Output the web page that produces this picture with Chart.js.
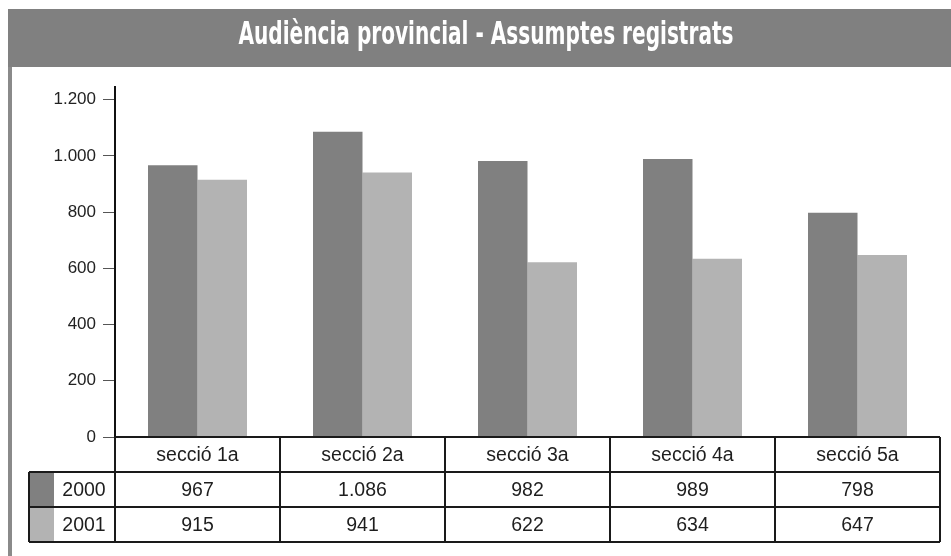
<!DOCTYPE html>
<html><head><meta charset="utf-8">
<script src="https://cdn.jsdelivr.net/npm/chart.js@4.4.0/dist/chart.umd.min.js"></script>
<style>html,body{margin:0;padding:0;background:#fff}#wrap{width:951px;height:556px}</style>
</head><body><div id="wrap"><canvas id="c" width="951" height="556"></canvas></div>
<script>
const titleText = 'Audiència provincial - Assumptes registrats';
const categories = ['secció 1a', 'secció 2a', 'secció 3a', 'secció 4a', 'secció 5a'];
const seriesNames = ['2000', '2001'];
const values2000 = [967, 1086, 982, 989, 798];
const values2001 = [915, 941, 622, 634, 647];
const yTicks = [0, 200, 400, 600, 800, 1000, 1200];
const seriesColors = ['#808080', '#b3b3b3'];
const seriesValues = [values2000, values2001];

function fmt(n) { return String(n).replace(/\B(?=(\d{3})+(?!\d))/g, '.'); }

const FONT = '"Liberation Sans", Arial, sans-serif';

const framePlugin = {
  id: 'frame',
  beforeDraw(chart) {
    const ctx = chart.ctx;
    ctx.save();
    ctx.fillStyle = '#fff';
    ctx.fillRect(0, 0, chart.width, chart.height);
    ctx.fillStyle = '#808080';
    ctx.fillRect(8, 9, chart.width - 8, 58);
    ctx.fillStyle = '#8a8a8a';
    ctx.fillRect(8, 67, 4, chart.height - 67);
    ctx.font = 'bold 32px "Liberation Sans Narrow", "DejaVu Sans Condensed", "Liberation Sans", sans-serif';
    const w = ctx.measureText(titleText).width;
    const sx = 495 / w;
    ctx.translate(486, 44);
    ctx.scale(sx, 1);
    ctx.fillStyle = '#fff';
    ctx.textAlign = 'center';
    ctx.textBaseline = 'alphabetic';
    ctx.fillText(titleText, 0, 0);
    ctx.restore();
  },
  afterDraw(chart) {
    const ctx = chart.ctx;
    const xs = chart.scales.x, ys = chart.scales.y;
    const n = categories.length;
    const cw = (xs.getPixelForValue(n - 1) - xs.getPixelForValue(0)) / (n - 1);
    const left = xs.getPixelForValue(0) - cw / 2;
    const right = xs.getPixelForValue(n - 1) + cw / 2;
    const top = ys.getPixelForValue(0);
    const rowH = 35;
    const legL = 29, swW = 25;
    ctx.save();
    seriesColors.forEach((c, i) => {
      ctx.fillStyle = c;
      ctx.fillRect(legL, top + rowH * (i + 1), swW, rowH);
    });
    ctx.strokeStyle = '#1a1a1a';
    ctx.lineWidth = 2;
    ctx.beginPath();
    ctx.moveTo(left, top); ctx.lineTo(right, top);
    for (let r = 1; r <= 3; r++) {
      ctx.moveTo(legL, top + rowH * r); ctx.lineTo(right, top + rowH * r);
    }
    for (let i = 0; i <= n; i++) {
      const x = left + cw * i;
      ctx.moveTo(x, top); ctx.lineTo(x, top + rowH * 3);
    }
    ctx.moveTo(legL, top + rowH); ctx.lineTo(legL, top + rowH * 3);
    ctx.stroke();
    ctx.fillStyle = '#1e1e1e';
    ctx.font = '19.5px ' + FONT;
    ctx.textAlign = 'center';
    ctx.textBaseline = 'middle';
    categories.forEach((c, i) => {
      const cx = xs.getPixelForValue(i);
      ctx.fillText(c, cx, top + rowH * 0.5 + 1);
      seriesValues.forEach((vals, s) => {
        ctx.fillText(fmt(vals[i]), cx, top + rowH * (s + 1.5) + 1);
      });
    });
    seriesNames.forEach((nm, s) => {
      ctx.fillText(nm, 84, top + rowH * (s + 1.5) + 1);
    });
    ctx.restore();
  }
};

new Chart(document.getElementById('c'), {
  type: 'bar',
  data: {
    labels: categories,
    datasets: seriesNames.map((nm, i) => ({
      label: nm,
      data: seriesValues[i],
      backgroundColor: seriesColors[i],
      borderWidth: 0,
      categoryPercentage: 0.6,
      barPercentage: 1.0
    }))
  },
  options: {
    responsive: false,
    animation: false,
    devicePixelRatio: 1,
    layout: { padding: { top: 87, left: 0, right: 11, bottom: 119 } },
    plugins: { legend: { display: false }, title: { display: false }, tooltip: { enabled: false } },
    scales: {
      x: { display: false, offset: true },
      y: {
        min: 0, max: 1245,
        afterBuildTicks(scale) { scale.ticks = yTicks.map(v => ({ value: v })); },
        afterFit(scale) { scale.width = 115; },
        ticks: { callback: v => fmt(v), font: { size: 17, family: FONT }, color: '#222', padding: 7 },
        grid: { drawOnChartArea: false, drawTicks: true, tickLength: 12, color: '#555', lineWidth: 1 },
        border: { display: true, color: '#111', width: 2 }
      }
    }
  },
  plugins: [framePlugin]
});
</script>
</body></html>
